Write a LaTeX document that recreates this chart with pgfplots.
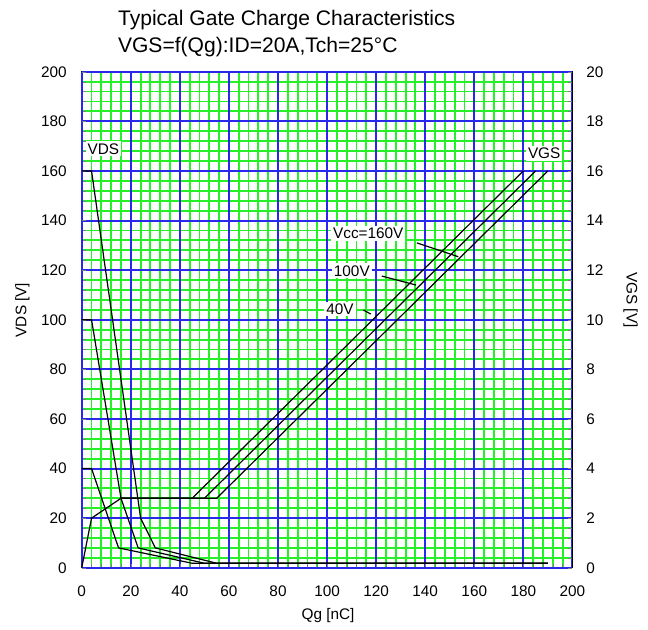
\documentclass[border=0pt]{standalone}
\usepackage{fontspec}
\setmainfont{Liberation Sans}
\usepackage{pgfplots}
\pgfplotsset{compat=1.18}
\definecolor{gridgreen}{RGB}{40,240,40}
\definecolor{gridblue}{RGB}{40,40,235}
\newcommand{\lbl}{\fontsize{11.5}{13}\selectfont}

\begin{document}
\begin{tikzpicture}
\useasboundingbox (0,0) rectangle (486pt,472.5pt);
\pgfplotsset{
  gc/.style={
    at={(61.3pt,46.7pt)}, anchor=south west,
    scale only axis, width=368pt, height=372pt,
    xmin=0, xmax=200,
    clip=false,
    tick align=inside,
    major tick length=3pt,
    axis line style={line width=1pt},
    tick label style={font=\lbl},
    /pgf/number format/assume math mode=true,
  },
}
% VDS, left scale
\begin{axis}[gc,
  ymin=0, ymax=200,
  xtick={0,4,...,200}, ytick={0,4,...,200},
  xticklabels={}, yticklabels={},
  grid=major,
  major grid style={draw=gridgreen, line width=1.4pt},
  extra x ticks={0,20,...,200}, extra y ticks={0,20,...,200},
  extra tick style={major grid style={draw=gridblue, line width=1.5pt}},
  xtick pos=bottom, ytick pos=left,
  yticklabel style={xshift=-7.7pt},
  xticklabel style={yshift=-9.7pt},
]
% Vcc = 40 V
\addplot[black, line width=0.9pt] coordinates {(0,40) (4,40) (15,8) (45,1.8) (190,1.8)};
% Vcc = 100 V
\addplot[black, line width=0.9pt] coordinates {(0,100) (4,100) (16,28) (23,8) (50,1.8) (190,1.8)};
% Vcc = 160 V
\addplot[black, line width=0.9pt] coordinates {(0,160) (4,160) (24,20) (30,8) (55,1.8) (190,1.8)};
% leaders
\addplot[black, line width=0.9pt] coordinates {(136.6,131.0) (153.5,125.4)};
\addplot[black, line width=0.9pt] coordinates {(122.3,117.6) (136.2,114.0)};
\addplot[black, line width=0.9pt] coordinates {(114.8,103.9) (117.8,102.3)};

\node[fill=white, inner sep=1.5pt, font=\lbl] at (116.8,134.7) {Vcc=160V};
\node[fill=white, inner sep=1.5pt, font=\lbl] at (110.1,119.7) {100V};
\node[fill=white, inner sep=1.5pt, font=\lbl] at (105.3,104.3) {40V};
\node[fill=white, inner sep=1.5pt, font=\lbl] at (188.5,167.1) {VGS};
\node[fill=white, inner sep=1.5pt, font=\lbl] at (8.8,168.9) {VDS};

\node[rotate=90, font=\lbl] at (rel axis cs:-0.1207,0.5196) {VDS [V]};
\node[font=\lbl] at (rel axis cs:0.502,-0.0964) {Qg [nC]};
\node[anchor=base west, font=\fontsize{15.8}{18}\selectfont] at (rel axis cs:0.0644,1.0942) {Typical Gate Charge Characteristics};
\node[anchor=base west, font=\fontsize{15.8}{18}\selectfont] at (rel axis cs:0.0644,1.0391) {VGS=f(Qg):ID=20A,Tch=25°C};
\end{axis}

% VGS, right scale
\begin{axis}[gc,
  ymin=0, ymax=20,
  axis x line=none, axis y line*=right,
  ytick={0,0.4,...,20}, yticklabels={},
  extra y ticks={0,2,...,20},
  yticklabel style={xshift=7pt},
]
\addplot[black, line width=0.9pt] coordinates {(0,0) (4,2.0) (16,2.8) (45,2.8) (180,16)};
\addplot[black, line width=0.9pt] coordinates {(16,2.8) (50,2.8) (185,16)};
\addplot[black, line width=0.9pt] coordinates {(16,2.8) (55,2.8) (190,16)};
\node[rotate=-90, font=\lbl] at (rel axis cs:1.1186,0.5397) {VGS [V]};
\end{axis}
\end{tikzpicture}
\end{document}
